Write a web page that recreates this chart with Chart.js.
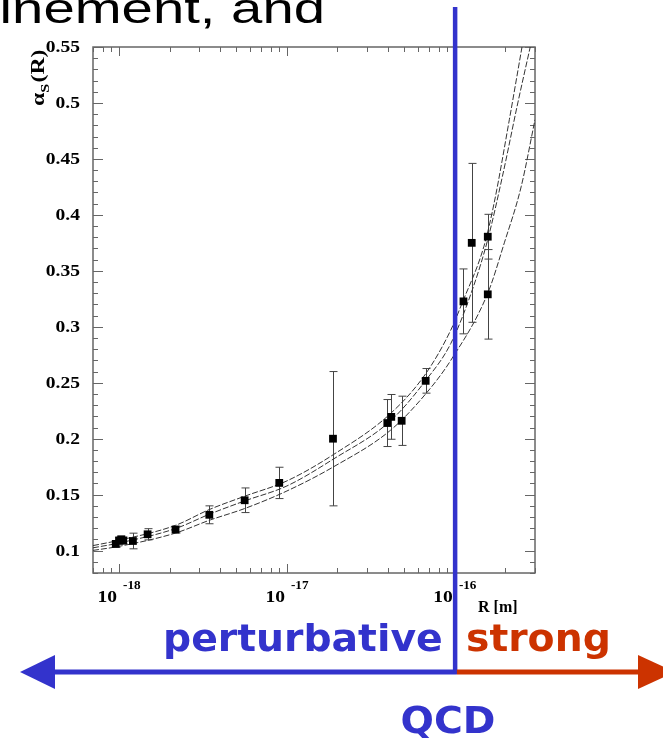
<!DOCTYPE html>
<html>
<head>
<meta charset="utf-8">
<script src="https://cdn.jsdelivr.net/npm/chart.js@4.4.0/dist/chart.umd.min.js"></script>
<style>
html, body { margin: 0; padding: 0; background: #fff; }
canvas { display: block; }
</style>
</head>
<body>
<canvas id="alphaChart" width="663" height="738"></canvas>
<script>
// measured alpha_s points (R in metres)
const pointR   = [9.56e-19, 1.0e-18, 1.03e-18, 1.06e-18, 1.21e-18, 1.48e-18, 2.17e-18, 3.45e-18, 5.6e-18, 9.0e-18, 1.88e-17, 3.96e-17, 4.18e-17, 4.82e-17, 6.7e-17, 1.125e-16, 1.26e-16, 1.57e-16, 1.57e-16]
const pointA   = [0.106, 0.109, 0.110, 0.109, 0.1086, 0.1146, 0.1188, 0.132, 0.145, 0.1605, 0.200, 0.214, 0.2195, 0.216, 0.2517, 0.3227, 0.375, 0.3805, 0.329]
const pointErr = [0.003, 0.003, 0.003, 0.003, 0.007, 0.005, 0.003, 0.008, 0.011, 0.014, 0.060, 0.021, 0.020, 0.022, 0.011, 0.029, 0.071, 0.020, 0.040]

// the three running curves
const upperR  = [7e-19, 1e-18, 2.17e-18, 3.45e-18, 5.6e-18, 1e-17, 1.9e-17, 4.14e-17, 6.7e-17, 9.45e-17, 1.11e-16, 1.49e-16, 1.71e-16, 2.11e-16, 2.51e-16]
const upperA  = [0.1045, 0.1092, 0.1226, 0.1367, 0.1486, 0.1623, 0.186, 0.2225, 0.258, 0.297, 0.322, 0.372, 0.41, 0.485, 0.55]
const middleR = [7e-19, 1e-18, 2.17e-18, 3.45e-18, 5.6e-18, 1e-17, 1.9e-17, 4.14e-17, 6.7e-17, 9.45e-17, 1.27e-16, 1.57e-16, 1.92e-16, 2.37e-16, 2.81e-16]
const middleA = [0.1025, 0.1068, 0.1197, 0.1325, 0.1444, 0.1578, 0.182, 0.216, 0.252, 0.285, 0.333, 0.378, 0.4345, 0.50, 0.55]
const lowerR  = [7e-19, 1e-18, 2.17e-18, 3.45e-18, 5.6e-18, 1e-17, 1.9e-17, 4.14e-17, 6.7e-17, 9.45e-17, 1.57e-16, 1.97e-16, 2.48e-16, 3e-16]
const lowerA  = [0.1002, 0.1038, 0.1157, 0.1271, 0.1376, 0.1533, 0.175, 0.2076, 0.240, 0.270, 0.330, 0.375, 0.425, 0.485]

// axis ticks
const yTicks = [0.1, 0.15, 0.2, 0.25, 0.3, 0.35, 0.4, 0.45, 0.5, 0.55]
const yTickLabels = ['0.1', '0.15', '0.2', '0.25', '0.3', '0.35', '0.4', '0.45', '0.5', '0.55']
const xTicks = [1e-18, 1e-17, 1e-16]
const xTickExps = ['-18', '-17', '-16']
const boundaryR = 1e-16

const toXY = (xs, ys) => xs.map((x, i) => ({ x: x, y: ys[i] }))

const curveStyle = {
    type: 'line',
    showLine: true,
    pointRadius: 0,
    borderColor: '#333',
    borderWidth: 1,
    borderDash: [6, 2],
    cubicInterpolationMode: 'monotone',
    fill: false
}

const serif = '"Liberation Serif", "DejaVu Serif", serif'

function stretchedText(ctx, text, x, y, align, sx) {
    ctx.save()
    ctx.translate(x, y)
    ctx.scale(sx, 1)
    ctx.textAlign = align
    ctx.fillText(text, 0, 0)
    ctx.restore()
}

const framePlugin = {
    id: 'frame',
    beforeDatasetsDraw(chart) {
        const { ctx, chartArea: a, scales: { x, y } } = chart
        ctx.save()
        ctx.strokeStyle = '#666'
        ctx.lineWidth = 1.5
        ctx.strokeRect(a.left, a.top, a.right - a.left, a.bottom - a.top)

        // y ticks, inward on both sides
        ctx.lineWidth = 1
        for (let v = 0.08; v <= 0.5501; v += 0.01) {
            const val = Math.round(v * 100) / 100
            const major = yTicks.some(t => Math.abs(t - val) < 1e-6)
            const len = major ? 10 : 5
            const py = Math.round(y.getPixelForValue(val)) + 0.5
            ctx.beginPath()
            ctx.moveTo(a.left, py); ctx.lineTo(a.left + len, py)
            ctx.moveTo(a.right, py); ctx.lineTo(a.right - len, py)
            ctx.stroke()
        }
        // x ticks (log), inward top and bottom
        for (let e = -19; e <= -16; e++) {
            for (let m = 1; m <= 9; m++) {
                const val = m * Math.pow(10, e)
                if (val < x.min * 0.999 || val > x.max * 1.001) continue
                const len = m === 1 ? 9 : 5
                const px = Math.round(x.getPixelForValue(val)) + 0.5
                ctx.beginPath()
                ctx.moveTo(px, a.bottom); ctx.lineTo(px, a.bottom - len)
                ctx.moveTo(px, a.top); ctx.lineTo(px, a.top + len)
                ctx.stroke()
            }
        }

        // error bars
        ctx.strokeStyle = '#444'
        pointR.forEach((r, i) => {
            const px = Math.round(x.getPixelForValue(r)) + 0.5
            const hi = y.getPixelForValue(pointA[i] + pointErr[i])
            const lo = y.getPixelForValue(pointA[i] - pointErr[i])
            ctx.beginPath()
            ctx.moveTo(px, hi); ctx.lineTo(px, lo)
            ctx.moveTo(px - 4, hi); ctx.lineTo(px + 4, hi)
            ctx.moveTo(px - 4, lo); ctx.lineTo(px + 4, lo)
            ctx.stroke()
        })
        ctx.restore()
    },
    afterDraw(chart) {
        const { ctx, chartArea: a, scales: { x, y } } = chart
        ctx.save()
        ctx.fillStyle = '#000'
        ctx.textBaseline = 'middle'
        ctx.font = 'bold 17px ' + serif
        yTicks.forEach((t, i) => {
            stretchedText(ctx, yTickLabels[i], 80, y.getPixelForValue(t) + 1, 'right', 1.15)
        })

        ctx.textBaseline = 'alphabetic'
        xTicks.forEach((t, i) => {
            const px = x.getPixelForValue(t)
            ctx.font = 'bold 17px ' + serif
            stretchedText(ctx, '10', px - 2, 602, 'right', 1.15)
            ctx.font = 'bold 12px ' + serif
            stretchedText(ctx, xTickExps[i], px + 4, 589, 'left', 1.1)
        })
        ctx.font = 'bold 16px ' + serif
        ctx.textAlign = 'left'
        ctx.fillText('R [m]', 478, 612)

        // y axis title alpha_S(R)
        ctx.save()
        ctx.translate(44, 106)
        ctx.rotate(-Math.PI / 2)
        ctx.scale(1.25, 1)
        ctx.textAlign = 'left'
        ctx.font = 'bold 19px ' + serif
        ctx.fillText('\u03B1', 0, 0)
        let w = ctx.measureText('\u03B1').width
        ctx.font = 'bold 13px ' + serif
        ctx.fillText('S', w, 5)
        w += ctx.measureText('S').width + 1
        ctx.font = 'bold 19px ' + serif
        ctx.fillText('(R)', w, 0)
        ctx.restore()

        // boundary line and arrow
        const bx = x.getPixelForValue(boundaryR)
        const blue = '#3333cc'
        const red = '#cc3300'
        const ay = 672
        ctx.fillStyle = blue
        ctx.fillRect(bx - 2, 7, 4.5, ay - 7 + 2)
        ctx.fillRect(52, ay - 2.5, bx - 52 + 2, 5)
        ctx.beginPath()
        ctx.moveTo(20, ay); ctx.lineTo(55, ay - 17); ctx.lineTo(55, ay + 17); ctx.closePath()
        ctx.fill()
        ctx.fillStyle = red
        ctx.fillRect(bx + 2, ay - 2.5, 640 - bx - 2, 5)
        ctx.beginPath()
        ctx.moveTo(675, ay); ctx.lineTo(638, ay - 17); ctx.lineTo(638, ay + 17); ctx.closePath()
        ctx.fill()

        ctx.font = 'bold 38px "DejaVu Sans", sans-serif'
        ctx.fillStyle = blue
        stretchedText(ctx, 'perturbative', 163, 651, 'left', 1.035)
        ctx.fillStyle = red
        stretchedText(ctx, 'strong', 466, 651, 'left', 1.035)
        ctx.fillStyle = blue
        stretchedText(ctx, 'QCD', 448, 733, 'center', 1.035)

        // slide text above, cut at the left edge
        ctx.fillStyle = '#000'
        ctx.font = '42px "Liberation Sans", Arial, sans-serif'
        stretchedText(ctx, 'confinement, and', 325, 23, 'right', 1.34)
        ctx.restore()
    }
}

new Chart(document.getElementById('alphaChart'), {
    type: 'scatter',
    data: {
        datasets: [
            {
                data: toXY(pointR, pointA),
                pointStyle: 'rect',
                pointRadius: 5.5,
                backgroundColor: '#000',
                borderColor: '#000',
                borderWidth: 0
            },
            Object.assign({ data: toXY(upperR, upperA) }, curveStyle),
            Object.assign({ data: toXY(middleR, middleA) }, curveStyle),
            Object.assign({ data: toXY(lowerR, lowerA) }, curveStyle)
        ]
    },
    options: {
        responsive: false,
        animation: false,
        layout: { padding: { left: 93, top: 47, right: 128, bottom: 165 } },
        plugins: { legend: { display: false }, tooltip: { enabled: false } },
        scales: {
            x: { type: 'logarithmic', min: 7e-19, max: 3e-16, display: false },
            y: { type: 'linear', min: 0.08, max: 0.55, display: false }
        }
    },
    plugins: [framePlugin]
})
</script>
</body>
</html>
